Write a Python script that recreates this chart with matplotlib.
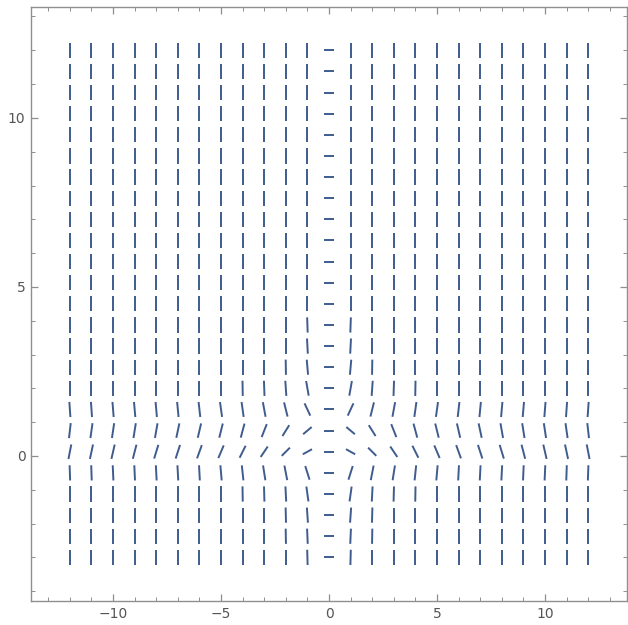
""" Line field, segments only """

import numpy as np
import matplotlib
matplotlib.use("Agg")
import matplotlib.pyplot as plt
from matplotlib.collections import LineCollection

# grid of sample points
x_values = list(range(-12, 13))
y_values = [-3 + 0.625 * k for k in range(25)]

# tilt of each segment as seen on screen, degrees from vertical
# (+ leans "/", - leans "\", 90 = horizontal); rows not listed are
# vertical everywhere except the horizontal x=0 column
plain_row = [0] * 12 + [90] + [0] * 12
tilted_rows = {
    3.875: [0] * 11 + [-2, 90, 2] + [0] * 11,
    3.25: [0] * 11 + [-3, 90, 3] + [0] * 11,
    2.625: [0] * 10 + [-1, -5, 90, 5, 1] + [0] * 10,
    2.0: [0] * 8 + [-1, -2, -4, -10, 90, 10, 4, 2, 1] + [0] * 8,
    1.375: [-4, -4, -4.5, -5, -5, -5.5, -6.5, -8, -8, -10.5, -14, -25, 90,
            25, 14, 10.5, 8, 8, 6.5, 5.5, 5, 5, 4.5, 4, 4],
    0.75: [6.5, 8, 8.5, 9, 10, 12, 13, 14, 15, 21.5, 32, 50, 90,
           -50, -32, -21.5, -15, -14, -13, -12, -10, -9, -8.5, -8, -6.5],
    0.125: [11, 12, 13, 14.5, 17, 18, 20, 23, 26.5, 34, 45, 61, 90,
            -61, -45, -34, -26.5, -23, -20, -18, -17, -14.5, -13, -12, -11],
    -0.5: [-2, -2, -2.5, -2.5, -3, -3, -3, -5, -6, -9, -11, -17.5, 90,
           17.5, 11, 9, 6, 5, 3, 3, 3, 2.5, 2.5, 2, 2],
    -1.125: [0] * 8 + [-1, -1.5, -3, -8, 90, 8, 3, 1.5, 1] + [0] * 8,
    -1.75: [0] * 10 + [-1.5, -4, 90, 4, 1.5] + [0] * 10,
    -2.375: [0] * 10 + [-1, -2.5, 90, 2.5, 1] + [0] * 10,
    -3.0: [0] * 11 + [-1.5, 90, 1.5] + [0] * 11,
}

x_ticks = [-10, -5, 0, 5, 10]
x_tick_labels = ["\u221210", "\u22125", "0", "5", "10"]
y_ticks = [0, 5, 10]
y_tick_labels = ["0", "5", "10"]


def main():
    """ Main """
    fig = plt.figure(figsize=(6.28, 6.25), dpi=100)
    ax = fig.add_axes([31 / 628, 24 / 625, 596 / 628, 594 / 625])
    xlim = (-13.8, 13.8)
    ylim = (-4.29, 13.28)
    ax.set_xlim(*xlim)
    ax.set_ylim(*ylim)

    # pixels per data unit, used to turn screen tilt into data direction
    px_x = 596 / (xlim[1] - xlim[0])
    px_y = 594 / (ylim[1] - ylim[0])
    seg_len = 0.45

    segs = []
    for y in y_values:
        row = tilted_rows.get(round(y, 3), plain_row)
        for x, tilt in zip(x_values, row):
            t = np.deg2rad(tilt)
            dx = np.sin(t) / px_x
            dy = np.cos(t) / px_y
            n = np.hypot(dx, dy)
            dx, dy = 0.5 * seg_len * dx / n, 0.5 * seg_len * dy / n
            segs.append([(x - dx, y - dy), (x + dx, y + dy)])
    ax.add_collection(LineCollection(segs, colors="#3f5c8e", linewidths=1.4,
                                     capstyle="butt"))

    frame_color = "#8f8f8f"
    for side in ax.spines.values():
        side.set_color(frame_color)
        side.set_linewidth(1.0)
    ax.set_xticks(x_ticks)
    ax.set_xticklabels(x_tick_labels)
    ax.set_yticks(y_ticks)
    ax.set_yticklabels(y_tick_labels)
    ax.set_xticks(range(-13, 14), minor=True)
    ax.set_yticks(range(-4, 14), minor=True)
    ax.tick_params(which="both", direction="in", top=True, right=True,
                   color=frame_color, labelcolor="#555555", labelsize=10,
                   pad=4)
    ax.tick_params(which="major", length=5, width=0.9)
    ax.tick_params(which="minor", length=3, width=0.7)

    fig.savefig("out.png", dpi=100)
    return


if __name__ == '__main__':
    main()
